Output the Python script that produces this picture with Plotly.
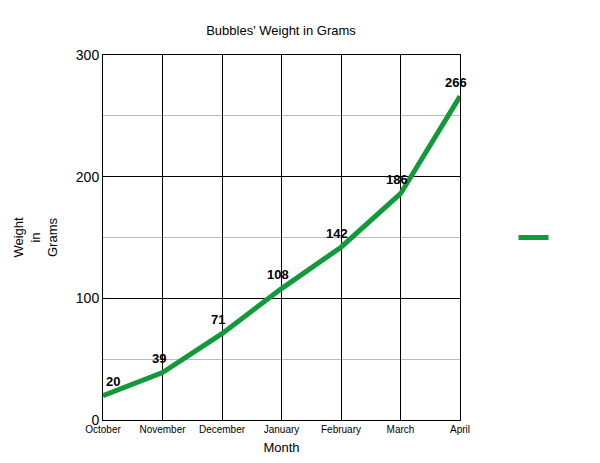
import plotly.graph_objects as go

months = ["October", "November", "December", "January", "February", "March", "April"]
weights = [20, 39, 71, 108, 142, 186, 266]

fig = go.Figure()
fig.add_trace(go.Scatter(
    x=months, y=weights, mode="lines", name=" ",
    line=dict(color="#109a3a", width=5),
))
for m, w in zip(months, weights):
    fig.add_annotation(x=m, y=w, text="<b>%d</b>" % w, showarrow=False,
                       yshift=14, xshift=-4 if m != "October" else 10,
                       font=dict(family="Arial", size=13, color="black"))
fig.update_layout(
    width=600, height=463, paper_bgcolor="white", plot_bgcolor="white",
    margin=dict(l=95, r=148, t=47, b=51, autoexpand=False),
    font=dict(family="Arial", color="black"),
    title=dict(text="Bubbles' Weight in Grams", x=0.455, xanchor="center", y=0.962, font=dict(size=13)),
    showlegend=True,
    legend=dict(x=1.15, y=0.5, yanchor="middle", font=dict(size=1)),
    xaxis=dict(title=dict(text="Month", font=dict(size=13), standoff=8), showgrid=True, gridcolor="black",
               showline=True, linecolor="black", mirror=True, tickfont=dict(size=10),
               range=[0, 6], ticks="", automargin=False),
    yaxis=dict(title=dict(text="Weight<br>in<br>Grams", font=dict(size=13)), range=[0, 300],
               dtick=100, showgrid=True, gridcolor="black", showline=True, linecolor="black",
               mirror=True, tickfont=dict(size=14), zeroline=False, automargin=False,
               minor=dict(dtick=50, showgrid=True, gridcolor="#bbbbbb")),
)
fig.write_html("out.html")
